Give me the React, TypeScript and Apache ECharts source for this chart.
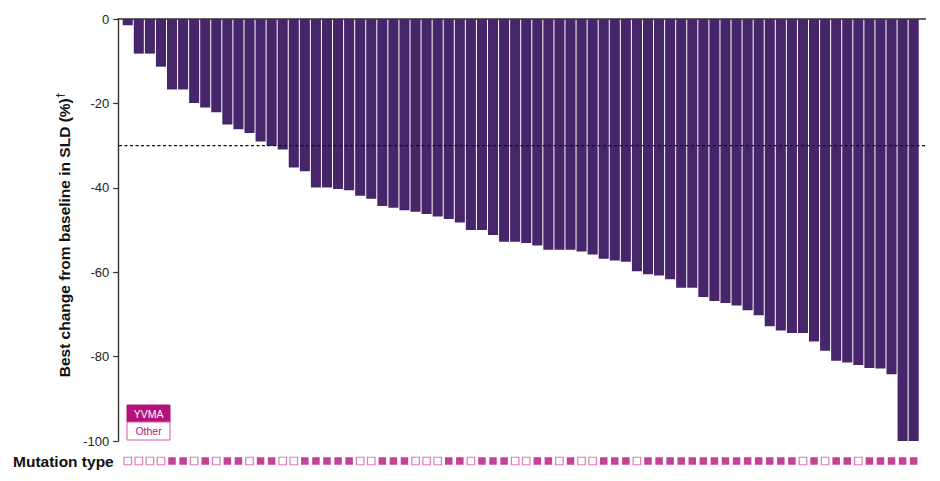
import React, { useEffect, useRef } from "react";
import * as echarts from "echarts";

// Best change from baseline in SLD (%) per patient, sorted
const changeValues: number[] = [
  -1.5, -8.2, -8.2, -11.3, -16.7, -16.7, -19.9, -21.0, -22.1, -25.0,
  -26.1, -27.0, -29.0, -30.1, -30.9, -35.2, -36.1, -39.9, -39.9, -40.3,
  -40.6, -41.9, -42.6, -44.3, -44.7, -45.3, -45.7, -46.2, -46.8, -47.4,
  -48.2, -50.0, -50.0, -51.2, -52.8, -52.8, -53.1, -53.7, -54.7, -54.7,
  -54.7, -55.1, -55.8, -56.8, -57.2, -57.5, -59.8, -60.5, -60.8, -61.7,
  -63.7, -63.7, -65.9, -66.8, -67.3, -67.9, -69.0, -70.2, -72.8, -73.8,
  -74.4, -74.4, -76.4, -78.6, -81.0, -81.4, -82.0, -82.7, -82.8, -84.2,
  -100, -100,
];

// Mutation type per patient: "Y" = YVMA, "O" = Other
const mutationTypes: string[] = [
  "O", "O", "O", "O", "Y", "Y", "O", "Y", "O", "Y", "Y", "O", "Y", "Y", "O", "O", "Y", "Y",
  "Y", "Y", "Y", "O", "O", "Y", "Y", "Y", "O", "O", "O", "Y", "Y", "O", "Y", "Y", "Y", "O",
  "O", "Y", "Y", "O", "Y", "O", "O", "Y", "Y", "Y", "O", "Y", "Y", "Y", "Y", "Y", "Y", "Y",
  "Y", "Y", "Y", "Y", "Y", "Y", "Y", "O", "Y", "O", "Y", "Y", "O", "Y", "Y", "Y", "Y", "Y",
];

const patients: string[] = changeValues.map((_, i) => `P${i + 1}`);
const yTicks = { min: -100, max: 0, interval: 20 };
const thresholdLine = -30;
const legendLabels = ["YVMA", "Other"];

const BAR_COLOR = "#46256a";
const MAGENTA = "#b5117c";
const MAGENTA_LIGHT = "#d55aa3";

export default function App() {
  const ref = useRef<HTMLDivElement>(null);

  useEffect(() => {
    document.body.style.margin = "0";
    if (!ref.current) return;
    const chart = echarts.init(ref.current, undefined, { renderer: "svg" });

    const gridLeft = 122.2;
    const gridRight = 940 - 919.2;
    const gridTop = 19;
    const gridHeight = 422;
    const thresholdY =
      gridTop + ((yTicks.max - thresholdLine) / (yTicks.max - yTicks.min)) * gridHeight;

    chart.setOption({
      animation: false,
      textStyle: { fontFamily: "Liberation Sans, Arial, sans-serif" },
      grid: [
        { left: gridLeft, right: gridRight, top: gridTop, height: gridHeight },
        { left: gridLeft, right: gridRight, top: 456, height: 10 },
      ],
      xAxis: [
        {
          type: "category",
          gridIndex: 0,
          data: patients,
          position: "top",
          axisLine: { show: false },
          axisTick: { show: false },
          axisLabel: { show: false },
        },
        {
          type: "category",
          gridIndex: 1,
          data: patients,
          show: false,
        },
      ],
      yAxis: [
        {
          type: "value",
          gridIndex: 0,
          min: yTicks.min,
          max: yTicks.max,
          interval: yTicks.interval,
          offset: 4,
          splitLine: { show: false },
          axisLine: { show: true, lineStyle: { color: "#333", width: 1.4 } },
          axisTick: { show: true, length: 5, lineStyle: { color: "#333", width: 1.2 } },
          axisLabel: { color: "#222", fontSize: 13, margin: 9 },
          name: "{a|Best change from baseline in SLD (%)}{b|†}",
          nameLocation: "middle",
          nameGap: 45,
          nameTextStyle: {
            padding: [0, 10, 0, 0],
            rich: {
              a: { fontSize: 15.5, fontWeight: "bold", color: "#111", lineHeight: 18 },
              b: { fontSize: 10, fontWeight: "bold", color: "#111", verticalAlign: "top", lineHeight: 18 },
            },
          },
        },
        {
          type: "value",
          gridIndex: 1,
          min: 0,
          max: 1,
          show: false,
        },
      ],
      series: [
        {
          type: "bar",
          xAxisIndex: 0,
          yAxisIndex: 0,
          data: changeValues,
          barCategoryGap: "9%",
          itemStyle: { color: BAR_COLOR },
        },
        {
          type: "scatter",
          xAxisIndex: 1,
          yAxisIndex: 1,
          symbol: "rect",
          symbolSize: 7.5,
          data: mutationTypes.map((t) => ({
            value: 0.5,
            itemStyle:
              t === "Y"
                ? { color: MAGENTA, borderColor: MAGENTA, borderWidth: 0 }
                : { color: "#ffffff", borderColor: MAGENTA_LIGHT, borderWidth: 1.2 },
          })),
        },
      ],
      graphic: [
        {
          type: "line",
          shape: { x1: 117.5, y1: gridTop, x2: 926, y2: gridTop },
          style: { stroke: "#333", lineWidth: 1.4 },
          z: 10,
        },
        {
          type: "line",
          shape: { x1: 119, y1: thresholdY, x2: 926, y2: thresholdY },
          style: { stroke: "#111", lineWidth: 1.2, lineDash: [3, 2.5] },
          z: 10,
        },
        {
          type: "rect",
          shape: { x: 127, y: 405, width: 43, height: 17 },
          style: { fill: MAGENTA, stroke: MAGENTA, lineWidth: 1 },
          z: 10,
        },
        {
          type: "text",
          x: 148.5,
          y: 413.5,
          style: {
            text: legendLabels[0],
            fill: "#ffffff",
            fontSize: 10.5,
            fontFamily: "Liberation Sans, Arial, sans-serif",
            align: "center",
            verticalAlign: "middle",
          },
          z: 11,
        },
        {
          type: "rect",
          shape: { x: 127, y: 422, width: 43, height: 18 },
          style: { fill: "#ffffff", stroke: MAGENTA_LIGHT, lineWidth: 1 },
          z: 10,
        },
        {
          type: "text",
          x: 148.5,
          y: 431,
          style: {
            text: legendLabels[1],
            fill: MAGENTA,
            fontSize: 10.5,
            fontFamily: "Liberation Sans, Arial, sans-serif",
            align: "center",
            verticalAlign: "middle",
          },
          z: 11,
        },
        {
          type: "text",
          x: 13,
          y: 461,
          style: {
            text: "Mutation type",
            fill: "#111",
            fontSize: 15.5,
            fontWeight: "bold",
            fontFamily: "Liberation Sans, Arial, sans-serif",
            align: "left",
            verticalAlign: "middle",
          },
        },
      ],
    });

    return () => chart.dispose();
  }, []);

  return <div ref={ref} style={{ width: 940, height: 481 }} />;
}
